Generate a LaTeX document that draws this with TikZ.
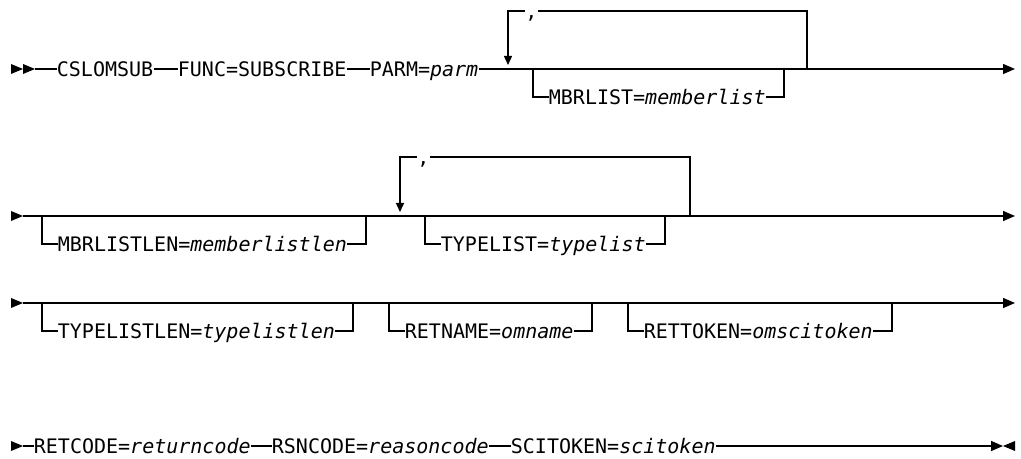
\documentclass[tikz,border=0pt]{standalone}
\usepackage{fontspec}
\newfontfamily\synfont[ItalicFont={DejaVu Sans Mono Oblique}]{DejaVu Sans Mono}
\usepackage{tikz}
\usetikzlibrary{arrows.meta}
\tikzset{
  kw/.style     = {inner sep=0pt, text height=7.3pt, text depth=0pt, anchor=west,
                   font=\synfont\fontsize{10}{12}\selectfont},
  sepc/.style   = {kw, anchor=center},
  rail/.style   = {line width=0.65pt},
  endarr/.style = {rail, -{Triangle[length=6pt, width=5pt]}},
  rptarr/.style = {rail, -{Triangle[length=4.5pt, width=4pt]}},
  rtri/.pic     = {\fill (0,0) -- (-12,-5) -- (-12,5) -- cycle;},
}
\begin{document}
\begin{tikzpicture}[x=0.5pt, y=-0.5pt]
  \useasboundingbox (0,0) rectangle (1021,459);

  % first line
  \pic at (23,69) {rtri};
  \pic at (35,69) {rtri};
  \coordinate (r1s) at (35,69);
  \coordinate (r1e) at (1015,69);
  \node[kw] (cslom) at (56.5,69)  {CSLOMSUB};
  \node[kw] (func)  at (177.5,69) {FUNC=SUBSCRIBE};
  \node[kw] (parm)  at (369.5,69) {PARM=\textit{parm}};
  \draw[rail] (r1s) -- (cslom.west);
  \draw[rail] (cslom.east) -- (func.west);
  \draw[rail] (func.east) -- (parm.west);
  \draw[endarr] (parm.east) -- (r1e);
  % repeat loop, MBRLIST
  \node[sepc] (c1) at (531.5,11) {,};
  \coordinate (l1in)  at (508,65);
  \coordinate (l1out) at (807,69);
  \draw[rptarr] (c1.west) -| (l1in);
  \draw[rail] (c1.east) -| (l1out);
  \coordinate (b1a) at (533,69);
  \coordinate (b1b) at (784,69);
  \node[kw] (mbr) at (548.5,97) {MBRLIST=\textit{memberlist}};
  \draw[rail] (b1a) |- (mbr.west);
  \draw[rail] (mbr.east) -| (b1b);

  % second line
  \pic at (23,216) {rtri};
  \coordinate (r2s) at (23,216);
  \coordinate (r2e) at (1015,216);
  \draw[endarr] (r2s) -- (r2e);
  \coordinate (b2a) at (42,216);
  \coordinate (b2b) at (366,216);
  \node[kw] (mbrlen) at (57.5,244) {MBRLISTLEN=\textit{memberlistlen}};
  \draw[rail] (b2a) |- (mbrlen.west);
  \draw[rail] (mbrlen.east) -| (b2b);
  % repeat loop, TYPELIST
  \node[sepc] (c2) at (423.5,157) {,};
  \coordinate (l2in)  at (400,212);
  \coordinate (l2out) at (690,216);
  \draw[rptarr] (c2.west) -| (l2in);
  \draw[rail] (c2.east) -| (l2out);
  \coordinate (b3a) at (425,216);
  \coordinate (b3b) at (665,216);
  \node[kw] (typ) at (440.5,244) {TYPELIST=\textit{typelist}};
  \draw[rail] (b3a) |- (typ.west);
  \draw[rail] (typ.east) -| (b3b);

  % third line
  \pic at (23,303) {rtri};
  \coordinate (r3s) at (23,303);
  \coordinate (r3e) at (1015,303);
  \draw[endarr] (r3s) -- (r3e);
  \coordinate (b4a) at (42,303);
  \coordinate (b4b) at (353,303);
  \node[kw] (typlen) at (57.5,331) {TYPELISTLEN=\textit{typelistlen}};
  \draw[rail] (b4a) |- (typlen.west);
  \draw[rail] (typlen.east) -| (b4b);
  \coordinate (b5a) at (389,303);
  \coordinate (b5b) at (592,303);
  \node[kw] (retn) at (404.5,331) {RETNAME=\textit{omname}};
  \draw[rail] (b5a) |- (retn.west);
  \draw[rail] (retn.east) -| (b5b);
  \coordinate (b6a) at (628,303);
  \coordinate (b6b) at (892,303);
  \node[kw] (rett) at (643.5,331) {RETTOKEN=\textit{omscitoken}};
  \draw[rail] (b6a) |- (rett.west);
  \draw[rail] (rett.east) -| (b6b);

  % last line
  \pic at (23,446) {rtri};
  \coordinate (r4s) at (23,446);
  \coordinate (r4e) at (1003,446);
  \node[kw] (retc) at (33.5,446)  {RETCODE=\textit{returncode}};
  \node[kw] (rsnc) at (271.5,446) {RSNCODE=\textit{reasoncode}};
  \node[kw] (scit) at (510.5,446) {SCITOKEN=\textit{scitoken}};
  \draw[rail] (r4s) -- (retc.west);
  \draw[rail] (retc.east) -- (rsnc.west);
  \draw[rail] (rsnc.east) -- (scit.west);
  \draw[endarr] (scit.east) -- (r4e);
  \pic[xscale=-1] at (1003,446) {rtri};
\end{tikzpicture}
\end{document}
